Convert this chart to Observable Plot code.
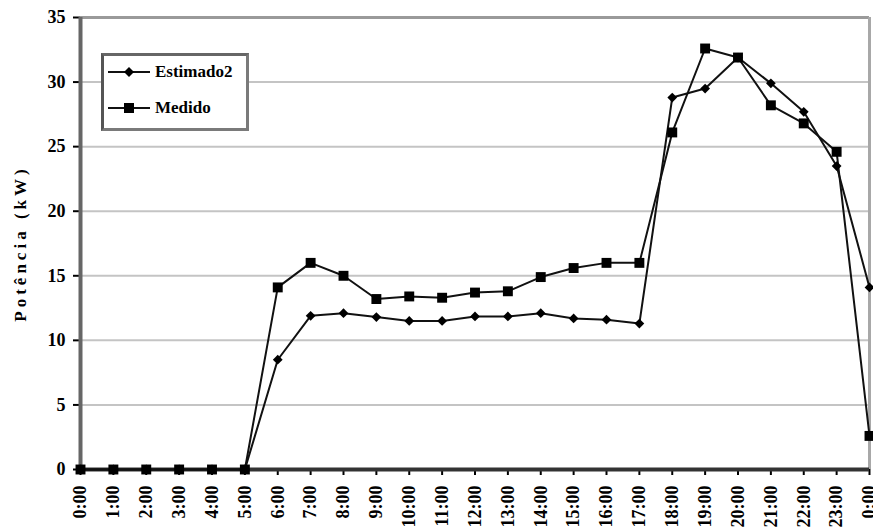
<!DOCTYPE html>
<html>
<head>
<meta charset="utf-8">
<script src="https://cdn.jsdelivr.net/npm/d3@7"></script>
<script src="https://cdn.jsdelivr.net/npm/@observablehq/plot@0.6"></script>
<style>
  html, body { margin: 0; padding: 0; background: #fff; overflow: hidden; }
  #wrap { position: relative; width: 873px; height: 527px; }
  #legend {
    position: absolute; left: 101px; top: 53px; width: 142px; height: 72px;
    border: 3px solid #7a7a7a; border-left-color: #555; border-top-color: #666; background: #fff;
    font-family: "Liberation Serif", "Times New Roman", serif; font-weight: bold; font-size: 17px; color: #000;
  }
  .item { position: absolute; left: 2px; display: flex; align-items: center; }
  .item svg { margin-right: 3px; }
</style>
</head>
<body>
<div id="wrap"></div>
<script>
const hourLabels = ["0:00","1:00","2:00","3:00","4:00","5:00","6:00","7:00","8:00","9:00","10:00","11:00","12:00","13:00","14:00","15:00","16:00","17:00","18:00","19:00","20:00","21:00","22:00","23:00","0:00"];
const yTicks = [0, 5, 10, 15, 20, 25, 30, 35];
const seriesNames = ["Estimado2", "Medido"];
const estimado2 = [0, 0, 0, 0, 0, 0, 8.5, 11.9, 12.1, 11.8, 11.5, 11.5, 11.85, 11.85, 12.1, 11.7, 11.6, 11.3, 28.8, 29.5, 31.9, 29.9, 27.7, 23.5, 14.1];
const medido = [0, 0, 0, 0, 0, 0, 14.1, 16.0, 15.0, 13.2, 13.4, 13.3, 13.7, 13.8, 14.9, 15.6, 16.0, 16.0, 26.1, 32.6, 31.9, 28.2, 26.8, 24.6, 2.6];
const yTitle = "Potência (kW)";

const estData = estimado2.map((v, i) => ({h: i, v}));
const medData = medido.map((v, i) => ({h: i, v}));

const chart = Plot.plot({
  width: 873,
  height: 527,
  marginLeft: 80,
  marginRight: 4,
  marginTop: 17,
  marginBottom: 58,
  x: {domain: [0, 24]},
  y: {domain: [0, 35]},
  style: {fontFamily: "'Liberation Serif', 'Times New Roman', serif", fontWeight: "bold", fontSize: "18px", color: "#000", background: "#fff"},
  marks: [
    Plot.gridY(yTicks.filter(d => d > 0 && d < 35), {stroke: "#c4c4c4", strokeOpacity: 1, strokeWidth: 2}),
    Plot.ruleY([35], {stroke: "#9a9a9a", strokeWidth: 3}),
    Plot.ruleX([24], {stroke: "#a8a8a8", strokeWidth: 3}),
    Plot.axisY({ticks: yTicks, tickSize: 7, tickPadding: 8, label: null, stroke: "#000", strokeWidth: 2}),
    Plot.axisX({ticks: d3.range(25), tickFormat: i => hourLabels[i], tickRotate: -90, tickSize: 6, tickPadding: 10, label: null, strokeWidth: 2}),
    Plot.ruleX([0], {stroke: "#666", strokeWidth: 4}),
    Plot.ruleY([0], {stroke: "#333", strokeWidth: 4}),
    Plot.text([yTitle], {frameAnchor: "left", dx: -60, rotate: -90, textAnchor: "middle", fontSize: 17, fontWeight: "bold", fill: "#000"}),
    Plot.line(estData, {x: "h", y: "v", stroke: "#111", strokeWidth: 2}),
    Plot.line(medData, {x: "h", y: "v", stroke: "#111", strokeWidth: 2}),
    Plot.dot(estData, {x: "h", y: "v", symbol: "diamond2", r: 4.4, fill: "#000", stroke: "none"}),
    Plot.dot(medData, {x: "h", y: "v", symbol: "square", r: 5.6, fill: "#000", stroke: "none"})
  ]
});

d3.select(chart).selectAll("text")
  .filter(function() { return this.textContent === yTitle; })
  .attr("letter-spacing", 4);

const wrap = document.getElementById("wrap");
wrap.appendChild(chart);

const legend = document.createElement("div");
legend.id = "legend";
legend.innerHTML = `
  <div class="item" style="top:6px">
    <svg width="46" height="16"><line x1="2" y1="8" x2="44" y2="8" stroke="#111" stroke-width="2"/><path d="M23,3 L28,8 L23,13 L18,8 Z" fill="#000"/></svg>
    <span>${seriesNames[0]}</span>
  </div>
  <div class="item" style="top:42px">
    <svg width="46" height="16"><line x1="2" y1="8" x2="44" y2="8" stroke="#111" stroke-width="2"/><rect x="18" y="3" width="10" height="10" fill="#000"/></svg>
    <span>${seriesNames[1]}</span>
  </div>`;
wrap.appendChild(legend);
</script>
</body>
</html>
